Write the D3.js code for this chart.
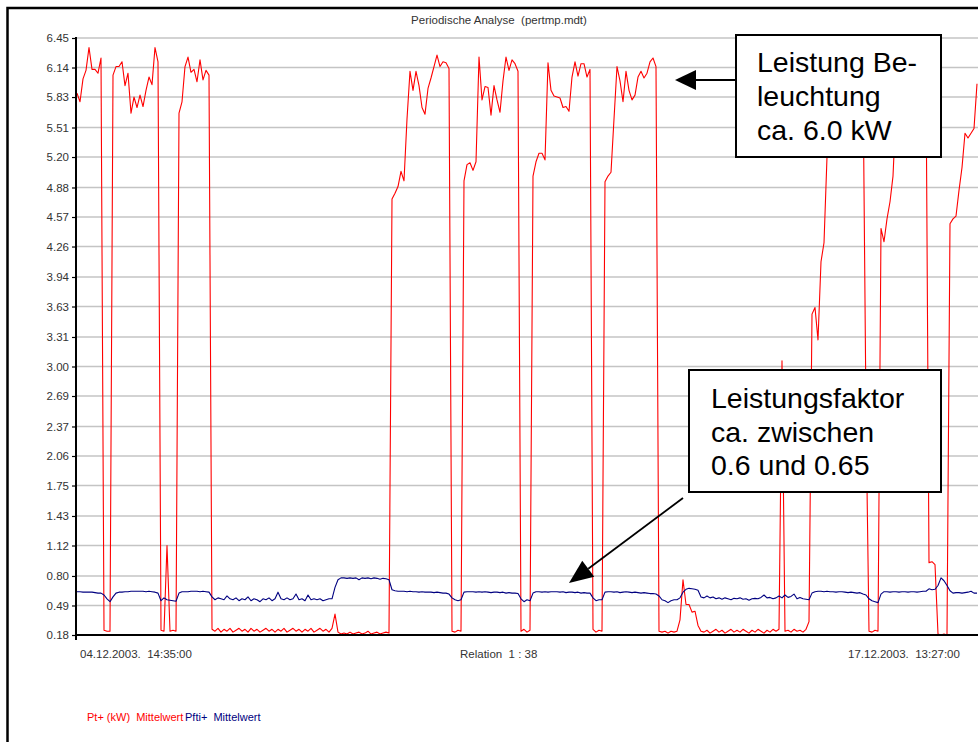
<!DOCTYPE html>
<html>
<head>
<meta charset="utf-8">
<script src="https://cdn.jsdelivr.net/npm/d3@7/dist/d3.min.js"></script>
<style>
  html, body { margin: 0; padding: 0; background: #fff; }
  svg { display: block; font-family: "Liberation Sans", Arial, Helvetica, sans-serif; }
</style>
</head>
<body>
<svg id="chart" width="978" height="742"></svg>
<script>
// Periodic analysis: active power Pt+ (kW) and power factor Pfti+, mean values per interval
const title = "Periodische Analyse  (pertmp.mdt)";

// y-axis tick labels as printed by the analyser
const yTickLabels = ["6.45","6.14","5.83","5.51","5.20","4.88","4.57","4.26","3.94","3.63",
  "3.31","3.00","2.69","2.37","2.06","1.75","1.43","1.12","0.80","0.49","0.18"];

// x-axis captions: start time, compression relation, end time
const xLabels = ["04.12.2003.  14:35:00", "Relation  1 : 38", "17.12.2003.  13:27:00"];

// legend entries
const seriesNames = ["Pt+ (kW)  Mittelwert", "Pfti+  Mittelwert"];

// Pt+ (kW) mean values
const ptPlus = [
  5.87, 5.78, 6.02, 6.11, 6.35, 6.12, 6.12, 6.08, 6.24, 0.23,
  0.22, 0.22, 6.06, 6.15, 6.15, 6.20, 5.95, 6.08, 5.66, 5.83,
  5.72, 5.85, 5.73, 5.90, 6.04, 5.96, 6.35, 6.20, 0.23, 0.22,
  1.12, 0.22, 0.23, 0.22, 5.66, 5.78, 6.15, 6.25, 6.09, 6.12,
  5.99, 6.22, 6.01, 6.11, 6.06, 0.24, 0.22, 0.25, 0.21, 0.24,
  0.22, 0.25, 0.21, 0.23, 0.25, 0.22, 0.24, 0.21, 0.25, 0.22,
  0.24, 0.21, 0.23, 0.25, 0.22, 0.24, 0.21, 0.24, 0.22, 0.25,
  0.21, 0.23, 0.25, 0.22, 0.24, 0.21, 0.24, 0.22, 0.25, 0.21,
  0.23, 0.25, 0.22, 0.24, 0.21, 0.25, 0.40, 0.21, 0.19, 0.20,
  0.19, 0.21, 0.19, 0.20, 0.21, 0.19, 0.20, 0.22, 0.19, 0.20,
  0.21, 0.19, 0.20, 0.21, 0.20, 4.76, 4.82, 4.89, 5.05, 4.95,
  5.60, 6.10, 5.90, 6.10, 5.95, 5.72, 5.65, 5.92, 6.03, 6.15,
  6.27, 6.15, 6.20, 6.19, 6.13, 0.22, 0.21, 0.23, 0.22, 4.95,
  5.12, 5.14, 5.06, 5.15, 6.25, 5.80, 5.94, 5.93, 5.64, 5.95,
  5.80, 5.67, 6.00, 6.25, 6.11, 6.22, 6.18, 6.10, 0.22, 0.24,
  0.21, 0.23, 5.00, 5.15, 5.24, 5.24, 5.17, 6.19, 5.90, 5.84,
  5.83, 5.82, 5.72, 5.73, 5.68, 6.04, 6.20, 6.05, 6.18, 6.18,
  6.04, 6.12, 0.24, 0.21, 0.23, 0.22, 4.94, 5.00, 5.04, 5.60,
  6.15, 6.00, 5.78, 6.10, 5.90, 5.80, 5.85, 6.04, 6.10, 6.03,
  6.08, 6.20, 6.24, 6.15, 0.22, 0.21, 0.22, 0.20, 0.22, 0.21,
  0.22, 0.34, 0.76, 0.50, 0.50, 0.42, 0.43, 0.28, 0.22, 0.21,
  0.23, 0.20, 0.22, 0.24, 0.21, 0.23, 0.20, 0.22, 0.24, 0.21,
  0.23, 0.21, 0.24, 0.22, 0.20, 0.23, 0.21, 0.24, 0.22, 0.20,
  0.23, 0.21, 0.24, 0.22, 0.24, 3.06, 0.22, 0.23, 0.21, 0.24,
  0.22, 0.23, 0.21, 0.24, 0.32, 3.55, 3.62, 3.28, 4.10, 4.30,
  5.20, 5.85, 6.05, 6.15, 6.02, 6.20, 6.10, 6.25, 6.12, 6.05,
  6.18, 6.10, 6.08, 2.50, 0.22, 0.21, 0.23, 0.22, 4.45, 4.31,
  4.55, 4.73, 5.00, 5.70, 6.05, 6.15, 6.10, 6.22, 6.08, 6.18,
  6.12, 6.20, 6.05, 6.10, 0.94, 0.95, 0.92, 0.19, 0.18, 0.19,
  0.18, 4.50, 4.55, 4.58, 4.85, 5.09, 5.45, 5.40, 5.45, 5.50,
  5.97
];

// Pfti+ (power factor) mean values
const pftiPlus = [
  0.635, 0.635, 0.63, 0.63, 0.63, 0.63, 0.625, 0.62, 0.62, 0.60,
  0.56, 0.53, 0.58, 0.62, 0.63, 0.63, 0.635, 0.635, 0.64, 0.64,
  0.64, 0.64, 0.64, 0.635, 0.64, 0.635, 0.63, 0.62, 0.54, 0.57,
  0.55, 0.545, 0.54, 0.535, 0.62, 0.635, 0.635, 0.635, 0.64, 0.64,
  0.64, 0.635, 0.64, 0.635, 0.63, 0.58, 0.55, 0.57, 0.56, 0.55,
  0.59, 0.56, 0.55, 0.57, 0.54, 0.56, 0.55, 0.58, 0.54, 0.56,
  0.55, 0.53, 0.56, 0.55, 0.57, 0.54, 0.56, 0.63, 0.56, 0.55,
  0.57, 0.55, 0.56, 0.61, 0.55, 0.56, 0.54, 0.60, 0.55, 0.56,
  0.55, 0.56, 0.54, 0.55, 0.56, 0.56, 0.68, 0.76, 0.78, 0.78,
  0.775, 0.78, 0.775, 0.78, 0.76, 0.78, 0.775, 0.78, 0.77, 0.78,
  0.775, 0.765, 0.775, 0.77, 0.76, 0.655, 0.645, 0.64, 0.64, 0.64,
  0.635, 0.64, 0.635, 0.635, 0.63, 0.635, 0.63, 0.63, 0.63, 0.625,
  0.63, 0.625, 0.62, 0.62, 0.61, 0.57, 0.55, 0.54, 0.55, 0.63,
  0.635, 0.635, 0.635, 0.63, 0.635, 0.63, 0.635, 0.63, 0.625, 0.63,
  0.63, 0.625, 0.63, 0.62, 0.625, 0.62, 0.62, 0.615, 0.56, 0.53,
  0.55, 0.54, 0.62, 0.635, 0.635, 0.63, 0.635, 0.63, 0.635, 0.635,
  0.635, 0.63, 0.635, 0.625, 0.63, 0.63, 0.625, 0.63, 0.62, 0.625,
  0.62, 0.62, 0.57, 0.54, 0.55, 0.55, 0.63, 0.635, 0.635, 0.63,
  0.635, 0.625, 0.63, 0.635, 0.63, 0.625, 0.63, 0.625, 0.62, 0.625,
  0.62, 0.615, 0.615, 0.61, 0.59, 0.55, 0.54, 0.52, 0.54, 0.55,
  0.55, 0.57, 0.63, 0.66, 0.67, 0.665, 0.66, 0.65, 0.58, 0.57,
  0.59, 0.57, 0.58, 0.56, 0.57, 0.555, 0.57, 0.56, 0.55, 0.565,
  0.56, 0.57, 0.555, 0.56, 0.545, 0.56, 0.565, 0.56, 0.575, 0.60,
  0.57, 0.575, 0.56, 0.57, 0.59, 0.57, 0.60, 0.575, 0.585, 0.61,
  0.56, 0.575, 0.56, 0.555, 0.55, 0.62, 0.635, 0.64, 0.64, 0.635,
  0.64, 0.635, 0.635, 0.63, 0.635, 0.635, 0.63, 0.625, 0.63, 0.625,
  0.62, 0.625, 0.61, 0.60, 0.56, 0.54, 0.53, 0.52, 0.61, 0.635,
  0.635, 0.63, 0.635, 0.635, 0.63, 0.635, 0.635, 0.63, 0.635, 0.635,
  0.63, 0.635, 0.64, 0.64, 0.665, 0.655, 0.66, 0.70, 0.78, 0.75,
  0.70, 0.645, 0.62, 0.625, 0.625, 0.62, 0.625, 0.63, 0.64, 0.62,
  0.62
];

// callout texts
const noteLight = ["Leistung Be-", "leuchtung", "ca. 6.0 kW"];
const notePF = ["Leistungsfaktor", "ca. zwischen", "0.6 und 0.65"];

const W = 978, H = 742;
const plot = { left: 76, right: 978, top: 38, bottom: 635 };
const textGray = "#333";

const svg = d3.select("#chart");
svg.append("rect").attr("width", W).attr("height", H).attr("fill", "#fff");

const yTicks = yTickLabels.map(Number);
const y = d3.scaleLinear().domain([0.18, 6.45]).range([plot.bottom, plot.top]);
const x = d3.scaleLinear().domain([0, ptPlus.length - 1]).range([plot.left + 1, plot.right - 1]);

// outer frame (top and left edges)
svg.append("path")
  .attr("d", `M7.5,${H} V8 H${W}`)
  .attr("fill", "none").attr("stroke", "#000").attr("stroke-width", 2.5);

// title
svg.append("text")
  .attr("x", 499).attr("y", 24)
  .attr("text-anchor", "middle")
  .attr("font-size", 11.5).attr("fill", textGray)
  .style("white-space", "pre")
  .text(title);

// horizontal grid
svg.append("g").selectAll("line").data(yTicks).join("line")
  .attr("x1", plot.left).attr("x2", plot.right)
  .attr("y1", d => y(d)).attr("y2", d => y(d))
  .attr("stroke", "#c4c4c4").attr("stroke-width", 1.4);

// y axis
const yAxis = d3.axisLeft(y).tickValues(yTicks).tickSize(4).tickPadding(3)
  .tickFormat((d, i) => yTickLabels[i]);
const gy = svg.append("g").attr("transform", `translate(${plot.left},0)`).call(yAxis);
gy.select(".domain").remove();
gy.selectAll(".tick line").attr("stroke", "#000").attr("stroke-width", 1.2);
gy.selectAll(".tick text")
  .attr("font-size", 11.5).attr("fill", textGray)
  .attr("font-family", "'Liberation Sans', Arial, sans-serif");

// series
const line = d3.line().x((d, i) => x(i)).y(d => y(d));
svg.append("path").datum(ptPlus)
  .attr("d", line).attr("fill", "none")
  .attr("stroke", "#ff0000").attr("stroke-width", 1.1).attr("stroke-linejoin", "round");
svg.append("path").datum(pftiPlus)
  .attr("d", line).attr("fill", "none")
  .attr("stroke", "#000080").attr("stroke-width", 1.1).attr("stroke-linejoin", "round");

// axis lines
svg.append("line")
  .attr("x1", plot.left).attr("x2", plot.left)
  .attr("y1", plot.top - 1).attr("y2", plot.bottom + 5)
  .attr("stroke", "#000").attr("stroke-width", 2);
svg.append("line")
  .attr("x1", plot.left - 1).attr("x2", plot.right)
  .attr("y1", plot.bottom).attr("y2", plot.bottom)
  .attr("stroke", "#000").attr("stroke-width", 2);

// x captions
const xLabelPos = [80, 460, 848];
svg.append("g").selectAll("text").data(xLabels).join("text")
  .attr("x", (d, i) => xLabelPos[i]).attr("y", 658)
  .attr("font-size", 11.5).attr("fill", textGray)
  .style("white-space", "pre")
  .text(d => d);

// legend
const legendColors = ["#ff0000", "#000080"];
const legendPos = [87, 185];
svg.append("g").selectAll("text").data(seriesNames).join("text")
  .attr("x", (d, i) => legendPos[i]).attr("y", 721)
  .attr("font-size", 11).attr("fill", (d, i) => legendColors[i])
  .style("white-space", "pre")
  .text(d => d);

// callout boxes
function callout(x0, y0, w, h, lines, tx, baselines) {
  const g = svg.append("g");
  g.append("rect").attr("x", x0).attr("y", y0).attr("width", w).attr("height", h)
    .attr("fill", "#fff").attr("stroke", "#000").attr("stroke-width", 2);
  g.selectAll("text").data(lines).join("text")
    .attr("x", tx).attr("y", (d, i) => baselines[i])
    .attr("font-size", 28.5).attr("fill", "#000")
    .text(d => d);
}
callout(736, 35, 205, 122, noteLight, 757, [72, 106, 140]);
callout(689, 370, 252, 122, notePF, 711, [408, 441.5, 475]);

// arrows
function arrow(x1, y1, x2, y2, headLen, headHalf) {
  const dx = x2 - x1, dy = y2 - y1, len = Math.hypot(dx, dy);
  const ux = dx / len, uy = dy / len;
  const bx = x2 - ux * headLen, by = y2 - uy * headLen;
  svg.append("line").attr("x1", x1).attr("y1", y1).attr("x2", bx).attr("y2", by)
    .attr("stroke", "#000").attr("stroke-width", 1.8);
  svg.append("path")
    .attr("d", `M${x2},${y2} L${bx - uy * headHalf},${by + ux * headHalf} L${bx + uy * headHalf},${by - ux * headHalf} Z`)
    .attr("fill", "#000");
}
arrow(736, 80, 675, 80, 21, 10);
arrow(683, 498, 569, 583, 24, 10);
</script>
</body>
</html>
